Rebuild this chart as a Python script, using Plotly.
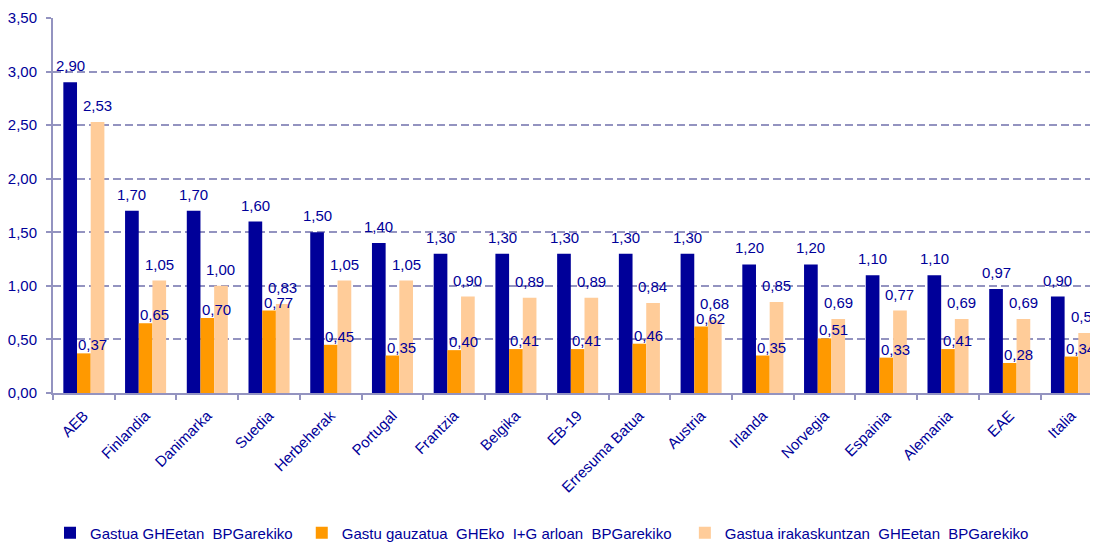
import plotly.graph_objects as go

categories = ["AEB", "Finlandia", "Danimarka", "Suedia", "Herbeherak", "Portugal",
              "Frantzia", "Belgika", "EB-19", "Erresuma Batua", "Austria", "Irlanda",
              "Norvegia", "Espainia", "Alemania", "EAE", "Italia"]
gastua_ghe = [2.90, 1.70, 1.70, 1.60, 1.50, 1.40, 1.30, 1.30, 1.30, 1.30, 1.30,
              1.20, 1.20, 1.10, 1.10, 0.97, 0.90]
gastu_ig = [0.37, 0.65, 0.70, 0.77, 0.45, 0.35, 0.40, 0.41, 0.41, 0.46, 0.62,
            0.35, 0.51, 0.33, 0.41, 0.28, 0.34]
gastua_irak = [2.53, 1.05, 1.00, 0.83, 1.05, 1.05, 0.90, 0.89, 0.89, 0.84, 0.68,
               0.85, 0.69, 0.77, 0.69, 0.69, 0.56]
series_names = ["Gastua GHEetan\u00a0 BPGarekiko\u00a0",
                "Gastu gauzatua\u00a0 GHEko\u00a0 I+G arloan\u00a0 BPGarekiko\u00a0\u00a0",
                "Gastua irakaskuntzan\u00a0 GHEetan\u00a0 BPGarekiko"]
colors = ["#000099", "#FF9900", "#FFCC99"]

TXT = "#000099"
AX = "#9393c0"
FONT = "Liberation Sans, Arial, sans-serif"

# the page body adds an 8px offset; the figure is sized to fill the rest
W, H = 1090, 534

fig = go.Figure()
series = [gastua_ghe, gastu_ig, gastua_irak]
for name, vals, col in zip(series_names, series, colors):
    fig.add_trace(go.Bar(x=categories, y=vals, name=name,
                         marker=dict(color=col, line=dict(width=0))))

# data labels
bar_px = 13.6
shifts = [(-bar_px, 6), (9, -2), (bar_px, 6)]
for vals, (xs, ys) in zip(series, shifts):
    for c, v in zip(categories, vals):
        fig.add_annotation(x=c, y=v, text=f"{v:.2f}".replace(".", ","),
                           showarrow=False, xanchor="center", yanchor="bottom",
                           xshift=xs, yshift=ys,
                           font=dict(family=FONT, size=15, color=TXT))

fig.update_layout(
    width=W, height=H,
    margin=dict(l=45, r=0, t=10, b=149),
    paper_bgcolor="white", plot_bgcolor="white",
    barmode="group", bargap=0.335, bargroupgap=0,
    separators=",.",
    font=dict(family=FONT, size=15, color=TXT),
    showlegend=True,
    legend=dict(orientation="h", xref="container", x=42 / W, xanchor="left",
                yref="container", y=9 / H, yanchor="middle",
                font=dict(family=FONT, size=15, color=TXT),
                itemwidth=30, traceorder="normal"),
    xaxis=dict(range=[-0.5, 16.43], showline=True, linecolor=AX, linewidth=2,
               ticks="outside", tickson="boundaries", ticklen=5, tickcolor=AX, tickwidth=2,
               tickangle=-45, tickfont=dict(family=FONT, size=15, color=TXT),
               ticklabelstandoff=6,
               showgrid=False, automargin=False),
    yaxis=dict(range=[0, 3.5], dtick=0.5, tickformat=".2f", showline=True,
               linecolor=AX, linewidth=2, ticks="outside", ticklen=5, tickcolor=AX,
               tickwidth=2, showgrid=True, gridcolor=AX, gridwidth=2,
               griddash="8px,4px", zeroline=False, automargin=False,
               ticklabelstandoff=6,
               tickfont=dict(family=FONT, size=15, color=TXT)),
)

fig.write_html("out.html")
